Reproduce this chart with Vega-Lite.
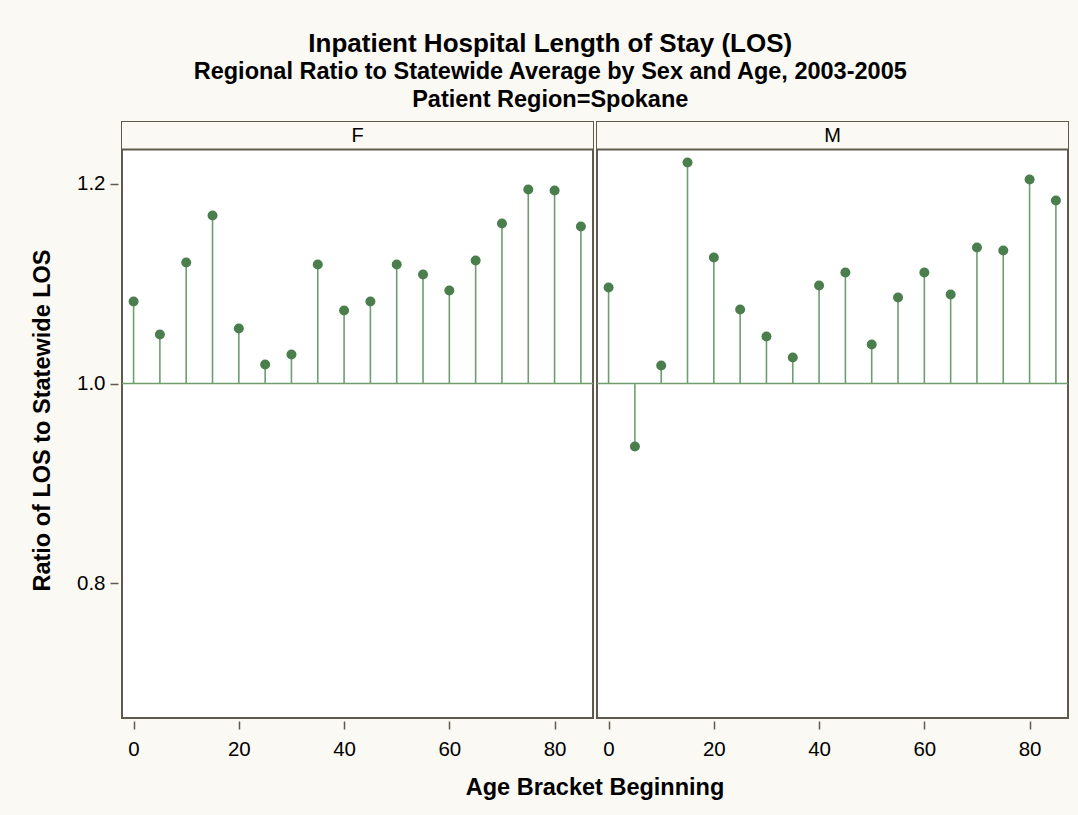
{
  "$schema": "https://vega.github.io/schema/vega-lite/v6.json",
  "background": "#FBF9F3",
  "padding": {"left": 30, "top": 30, "right": 9, "bottom": 22},
  "title": {
    "text": "Inpatient Hospital Length of Stay (LOS)",
    "subtitle": ["Regional Ratio to Statewide Average by Sex and Age, 2003-2005", "Patient Region=Spokane"],
    "anchor": "middle",
    "frame": "bounds",
    "font": "Liberation Sans",
    "fontSize": 26,
    "fontWeight": "bold",
    "color": "#000000",
    "subtitleFont": "Liberation Sans",
    "subtitleFontSize": 23.5,
    "subtitleFontWeight": "bold",
    "subtitleColor": "#000000",
    "subtitleLineHeight": 28,
    "subtitlePadding": 3,
    "offset": 10
  },
  "data": {
    "values": [
      {"sex": "F", "age": 0, "ratio": 1.082},
      {"sex": "F", "age": 5, "ratio": 1.049},
      {"sex": "F", "age": 10, "ratio": 1.121},
      {"sex": "F", "age": 15, "ratio": 1.168},
      {"sex": "F", "age": 20, "ratio": 1.055},
      {"sex": "F", "age": 25, "ratio": 1.019},
      {"sex": "F", "age": 30, "ratio": 1.029},
      {"sex": "F", "age": 35, "ratio": 1.119},
      {"sex": "F", "age": 40, "ratio": 1.073},
      {"sex": "F", "age": 45, "ratio": 1.082},
      {"sex": "F", "age": 50, "ratio": 1.119},
      {"sex": "F", "age": 55, "ratio": 1.109},
      {"sex": "F", "age": 60, "ratio": 1.093},
      {"sex": "F", "age": 65, "ratio": 1.123},
      {"sex": "F", "age": 70, "ratio": 1.160},
      {"sex": "F", "age": 75, "ratio": 1.194},
      {"sex": "F", "age": 80, "ratio": 1.193},
      {"sex": "F", "age": 85, "ratio": 1.157},
      {"sex": "M", "age": 0, "ratio": 1.096},
      {"sex": "M", "age": 5, "ratio": 0.937},
      {"sex": "M", "age": 10, "ratio": 1.018},
      {"sex": "M", "age": 15, "ratio": 1.221},
      {"sex": "M", "age": 20, "ratio": 1.126},
      {"sex": "M", "age": 25, "ratio": 1.074},
      {"sex": "M", "age": 30, "ratio": 1.047},
      {"sex": "M", "age": 35, "ratio": 1.026},
      {"sex": "M", "age": 40, "ratio": 1.098},
      {"sex": "M", "age": 45, "ratio": 1.111},
      {"sex": "M", "age": 50, "ratio": 1.039},
      {"sex": "M", "age": 55, "ratio": 1.086},
      {"sex": "M", "age": 60, "ratio": 1.111},
      {"sex": "M", "age": 65, "ratio": 1.089},
      {"sex": "M", "age": 70, "ratio": 1.136},
      {"sex": "M", "age": 75, "ratio": 1.133},
      {"sex": "M", "age": 80, "ratio": 1.204},
      {"sex": "M", "age": 85, "ratio": 1.183}
    ]
  },
  "spacing": 0,
  "facet": {
    "column": {
      "field": "sex", "type": "nominal", "title": "Age Bracket Beginning",
      "header": {
        "labels": false,
        "titleOrient": "bottom",
        "titleFont": "Liberation Sans",
        "titleFontSize": 23.5,
        "titleFontWeight": "bold",
        "titleColor": "#000000",
        "titlePadding": 6
      }
    }
  },
  "spec": {
    "width": 471,
    "height": 596,
    "view": {"fill": "#FFFFFF", "stroke": "#5E5A4E", "strokeWidth": 2},
    "encoding": {
      "x": {"field": "age", "type": "quantitative", "title": null,
            "scale": {"domain": [-2.2, 87.3], "nice": false, "zero": false},
            "axis": {"values": [0, 20, 40, 60, 80]}},
      "y": {"field": "ratio", "type": "quantitative", "title": "Ratio of LOS to Statewide LOS",
            "scale": {"domain": [0.6655, 1.2615], "nice": false, "zero": false},
            "axis": {"values": [0.8, 1.0, 1.2], "format": ".1f"}}
    },
    "layer": [
      {
        "transform": [{"filter": "datum.age == 0"}],
        "mark": {"type": "rect", "color": "#FBF9F3", "opacity": 1},
        "encoding": {
          "x": null,
          "y": {"datum": 1.234, "type": "quantitative"},
          "y2": {"datum": 1.2615}
        }
      },
      {
        "transform": [{"filter": "datum.age == 0"}],
        "mark": {"type": "rule", "color": "#5E5A4E", "strokeWidth": 2},
        "encoding": {
          "x": null,
          "y": {"datum": 1.234, "type": "quantitative"}
        }
      },
      {
        "transform": [{"filter": "datum.age == 0"}],
        "mark": {"type": "rule", "color": "#6E9E70", "strokeWidth": 1.6},
        "encoding": {
          "x": null,
          "y": {"datum": 1, "type": "quantitative"}
        }
      },
      {
        "mark": {"type": "rule", "color": "#6E9E70", "strokeWidth": 1.6},
        "encoding": {"y2": {"datum": 1}}
      },
      {
        "mark": {"type": "point", "filled": true, "size": 100, "color": "#4A7F4D", "opacity": 1},
        "encoding": {}
      },
      {
        "transform": [{"filter": "datum.age == 0"}],
        "mark": {"type": "text", "font": "Liberation Sans", "fontSize": 20, "color": "#000000", "baseline": "middle"},
        "encoding": {
          "x": null,
          "y": {"datum": 1.2478, "type": "quantitative"},
          "text": {"field": "sex", "type": "nominal"}
        }
      }
    ]
  },
  "config": {
    "font": "Liberation Sans",
    "axis": {
      "domain": false,
      "grid": false,
      "labelFont": "Liberation Sans",
      "labelFontSize": 20.5,
      "labelColor": "#000000",
      "tickColor": "#5E5A4E",
      "tickSize": 8,
      "tickWidth": 1.5,
      "offset": 2,
      "titleFont": "Liberation Sans",
      "titleFontSize": 23.5,
      "titleFontWeight": "bold",
      "titleColor": "#000000"
    },
    "axisX": {"labelPadding": 10},
    "axisY": {"labelPadding": 5, "titlePadding": 22}
  }
}
